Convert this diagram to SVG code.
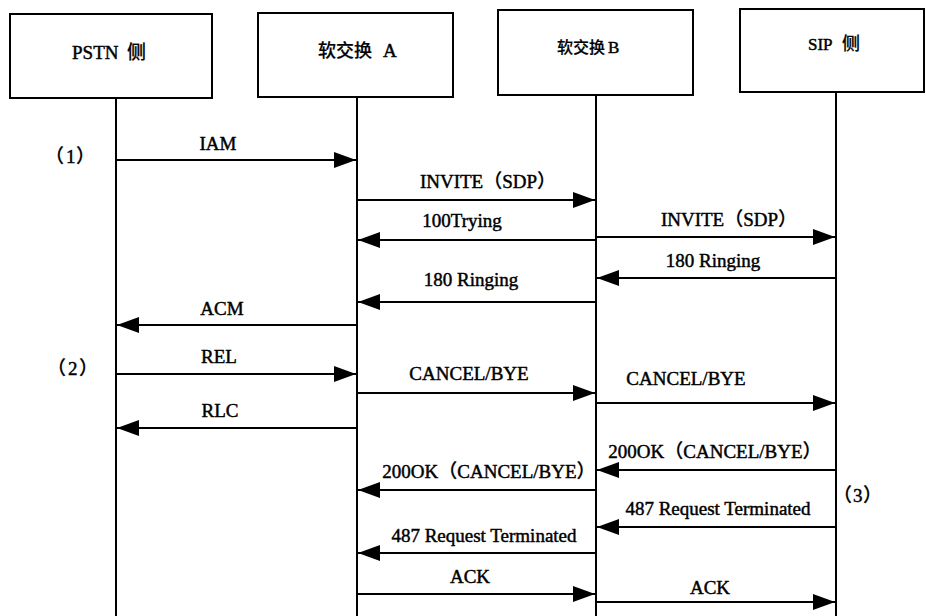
<svg xmlns="http://www.w3.org/2000/svg" width="926" height="616" viewBox="0 0 926 616">
<style>
.box{fill:#fff;stroke:#000;stroke-width:2}
.life{stroke:#000;stroke-width:2;fill:none}
.msg{stroke:#000;stroke-width:2;fill:none;marker-end:url(#ah)}
text{font-family:"Liberation Serif","Noto Sans CJK SC",serif;font-size:19px;fill:#000;stroke:#000;stroke-width:0.45;text-anchor:middle}
text.s{text-anchor:start}
.cjk{font-family:"Noto Sans CJK SC",sans-serif;font-weight:500;stroke-width:0.2}
.lat{font-family:"Liberation Serif",serif}
</style>
<defs>
<marker id="ah" markerUnits="userSpaceOnUse" markerWidth="22" markerHeight="16" refX="22" refY="8" orient="auto">
<path d="M0,0 L22,8 L0,16 Z" fill="#000"/>
</marker>
</defs>
<rect width="926" height="616" fill="#fff"/>
<g id="pstn">
<rect class="box" x="10" y="14" width="202" height="84"/>
<text class="s lat" x="72" y="59">PSTN</text>
<text class="s cjk" x="127" y="59">侧</text>
<line class="life" x1="116" y1="98" x2="116" y2="616"/>
</g>
<g id="swA">
<rect class="box" x="258" y="13" width="195" height="84"/>
<text class="s cjk" x="318" y="57" style="font-size:18px">软交换</text>
<text class="s lat" x="383" y="57">A</text>
<line class="life" x1="357" y1="97" x2="357" y2="616"/>
</g>
<g id="swB">
<rect class="box" x="498" y="10" width="195" height="85"/>
<text class="s cjk" x="557" y="53" style="font-size:16px">软交换</text>
<text class="s lat" x="608" y="53" style="font-size:17px">B</text>
<line class="life" x1="596" y1="95" x2="596" y2="616"/>
</g>
<g id="sip">
<rect class="box" x="740" y="9" width="184" height="83"/>
<text class="s lat" x="808" y="50" style="font-size:17px">SIP</text>
<text class="s cjk" x="842" y="50" style="font-size:18px">侧</text>
<line class="life" x1="836" y1="92" x2="836" y2="616"/>
</g>
<g id="connectors">
<line class="msg" x1="116" y1="160" x2="356" y2="160"/>
<line class="msg" x1="357" y1="200" x2="595" y2="200"/>
<line class="msg" x1="596" y1="240" x2="358" y2="240"/>
<line class="msg" x1="596" y1="237" x2="835" y2="237"/>
<line class="msg" x1="836" y1="278" x2="597" y2="278"/>
<line class="msg" x1="596" y1="302" x2="358" y2="302"/>
<line class="msg" x1="357" y1="325" x2="117" y2="325"/>
<line class="msg" x1="116" y1="374" x2="356" y2="374"/>
<line class="msg" x1="357" y1="393" x2="595" y2="393"/>
<line class="msg" x1="596" y1="403" x2="835" y2="403"/>
<line class="msg" x1="357" y1="428" x2="117" y2="428"/>
<line class="msg" x1="836" y1="470" x2="597" y2="470"/>
<line class="msg" x1="596" y1="490" x2="358" y2="490"/>
<line class="msg" x1="836" y1="527" x2="597" y2="527"/>
<line class="msg" x1="596" y1="553" x2="358" y2="553"/>
<line class="msg" x1="357" y1="594" x2="595" y2="594"/>
<line class="msg" x1="596" y1="602" x2="835" y2="602"/>
</g>
<g id="labels">
<text x="218" y="150">IAM</text>
<text x="488" y="188"><tspan class="lat">INVITE</tspan><tspan class="cjk">（</tspan><tspan class="lat">SDP</tspan><tspan class="cjk">）</tspan></text>
<text x="462" y="227">100Trying</text>
<text x="729" y="226"><tspan class="lat">INVITE</tspan><tspan class="cjk">（</tspan><tspan class="lat">SDP</tspan><tspan class="cjk">）</tspan></text>
<text x="713" y="267">180 Ringing</text>
<text x="471" y="286">180 Ringing</text>
<text x="222" y="315">ACM</text>
<text x="219" y="363">REL</text>
<text x="469" y="380">CANCEL/BYE</text>
<text x="686" y="385">CANCEL/BYE</text>
<text x="220" y="417">RLC</text>
<text x="715" y="458"><tspan class="lat">200OK</tspan><tspan class="cjk">（</tspan><tspan class="lat">CANCEL/BYE</tspan><tspan class="cjk">）</tspan></text>
<text x="489" y="478"><tspan class="lat">200OK</tspan><tspan class="cjk">（</tspan><tspan class="lat">CANCEL/BYE</tspan><tspan class="cjk">）</tspan></text>
<text x="718" y="515">487 Request Terminated</text>
<text x="484" y="542">487 Request Terminated</text>
<text x="470" y="583">ACK</text>
<text x="710" y="594">ACK</text>
</g>
<g id="markers">
<text class="s cjk" x="45" y="163">（</text>
<text class="s lat" x="66" y="163">1</text>
<text class="s cjk" x="76" y="163">）</text>
<text class="s cjk" x="47" y="375">（</text>
<text class="s lat" x="68" y="375">2</text>
<text class="s cjk" x="79" y="375">）</text>
<text class="s cjk" x="833" y="502">（</text>
<text class="s lat" x="853" y="502">3</text>
<text class="s cjk" x="863" y="502">）</text>
</g>
</svg>
